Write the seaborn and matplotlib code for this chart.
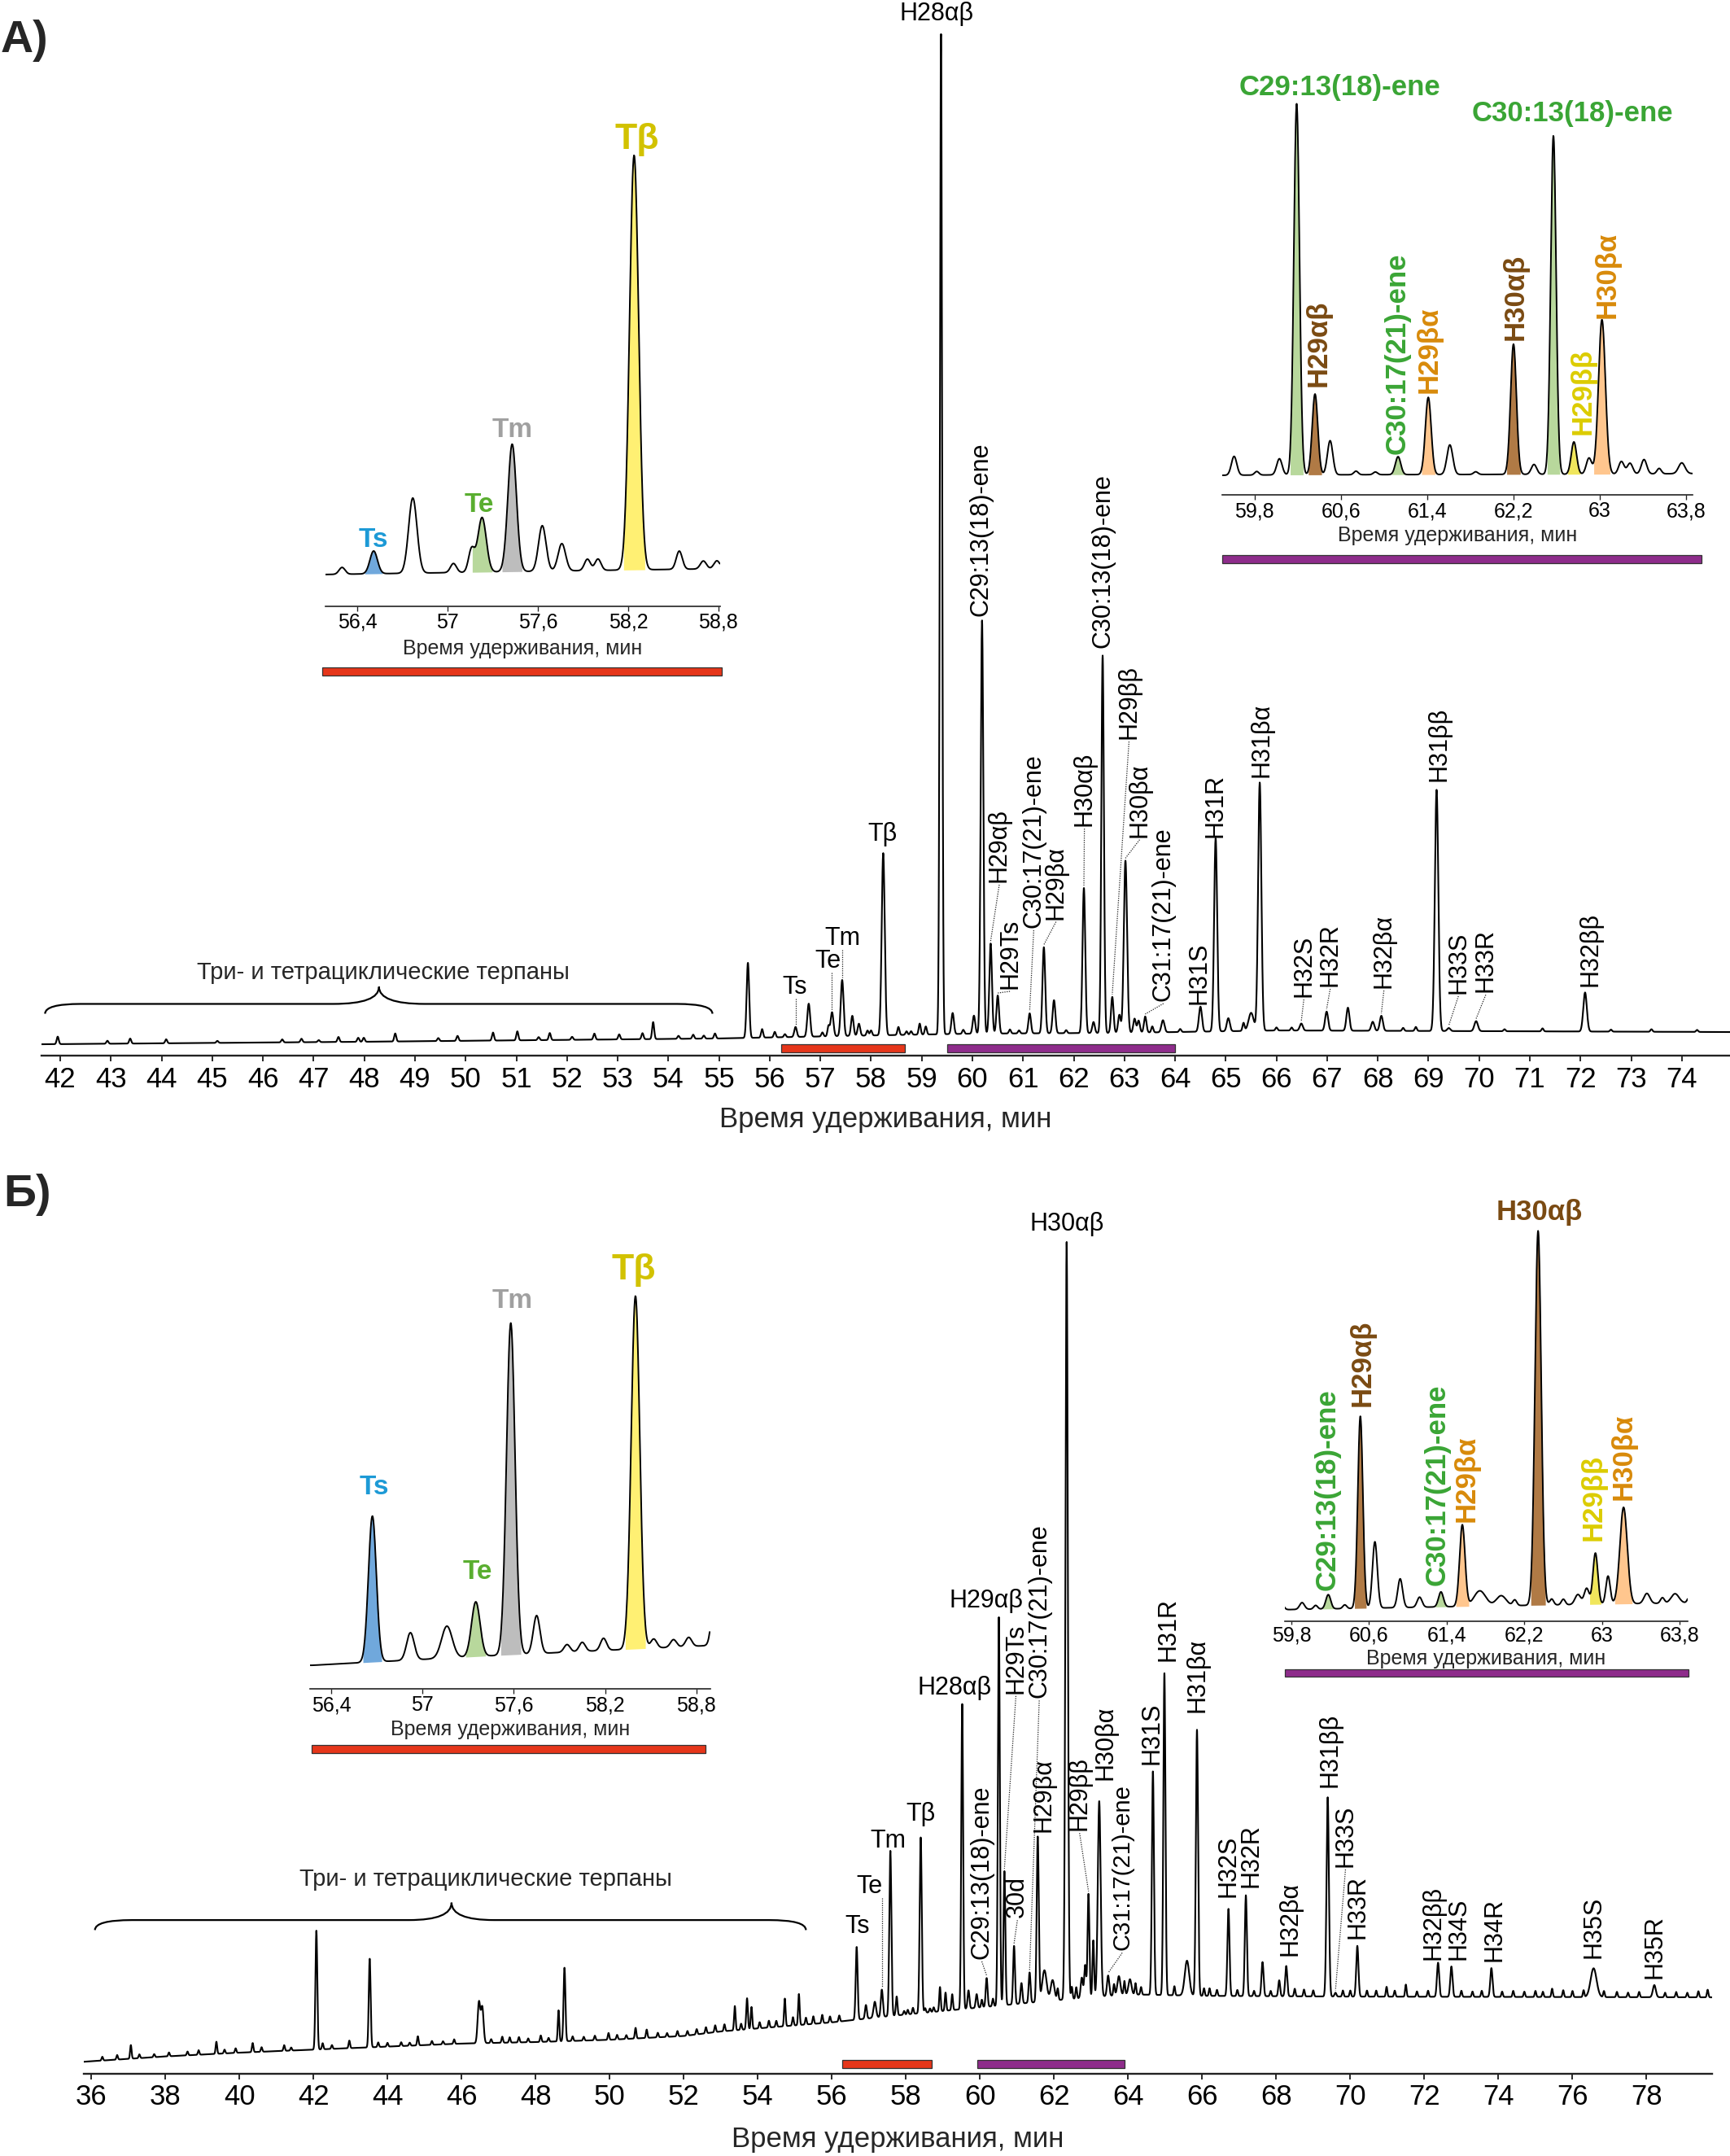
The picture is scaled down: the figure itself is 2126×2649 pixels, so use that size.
import numpy as np
import pandas as pd
import seaborn as sns
import matplotlib.pyplot as plt
from matplotlib.path import Path
from matplotlib.patches import PathPatch

sns.set_theme(style='ticks')
plt.rcParams['font.family'] = ['Liberation Sans', 'DejaVu Sans']

# ---------------- data: panel A ----------------
# main peaks: retention time (min), height (% of H28ab), width (sigma, min), name
a_rt = [
    55.57, 56.51, 56.77, 57.16, 57.23, 57.43, 57.63, 57.76, 58.24, 59.38,
    59.61, 60.03, 60.19, 60.36, 60.50, 61.13, 61.41, 61.61, 62.20, 62.39,
    62.57, 62.76, 62.90, 63.02, 63.20, 63.28, 63.41, 63.76, 64.50, 64.80,
    65.05, 65.50, 65.67, 66.49, 66.99, 67.41, 67.90, 68.07, 69.16, 69.40,
    69.94, 72.09]
a_h = [
    7.5, 1.0, 3.3, 1.0, 2.4, 5.6, 2.0, 1.2, 18.2, 100,
    2.1, 1.8, 41.3, 9.0, 3.8, 2.0, 8.6, 3.3, 14.5, 1.1,
    37.7, 3.6, 1.8, 17.2, 1.4, 1.2, 1.6, 1.2, 2.5, 19.3,
    1.3, 1.8, 24.8, 0.7, 1.9, 2.3, 0.9, 1.5, 24.1, 0.3,
    1.0, 3.9]
a_sig = [
    0.025, 0.025, 0.028, 0.02, 0.028, 0.028, 0.025, 0.025, 0.03, 0.022,
    0.025, 0.025, 0.026, 0.026, 0.025, 0.025, 0.027, 0.027, 0.027, 0.025,
    0.025, 0.025, 0.025, 0.032, 0.025, 0.025, 0.025, 0.03, 0.03, 0.03,
    0.03, 0.05, 0.032, 0.03, 0.03, 0.03, 0.03, 0.03, 0.034, 0.03,
    0.035, 0.035]
a_name = [
    '', 'Ts', '', '', 'Te', 'Tm', '', '', 'Tβ', 'H28αβ',
    '', '', 'C29:13(18)-ene', 'H29αβ', 'H29Ts', 'C30:17(21)-ene', 'H29βα', '', 'H30αβ', '',
    'C30:13(18)-ene', 'H29ββ', '', 'H30βα', '', '', 'C31:17(21)-ene', '', 'H31S', 'H31R',
    '', '', 'H31βα', 'H32S', 'H32R', '', '', 'H32βα', 'H31ββ', 'H33S',
    'H33R', 'H32ββ']
# small unnamed peaks
a_minor_rt = [
    41.95, 42.93, 43.38, 44.09, 45.1, 46.38, 46.76, 47.1, 47.49, 47.88,
    47.99, 48.61, 49.46, 49.84, 50.54, 51.02, 51.44, 51.66, 52.1, 52.54,
    53.03, 53.49, 53.70, 54.2, 54.49, 54.7, 54.92, 55.85, 56.10, 56.3,
    57.04, 57.93, 58.0, 58.54, 58.7, 58.79, 58.96, 59.08, 59.82, 60.74,
    60.92, 61.85, 63.55, 64.1, 65.35, 66.0, 66.3, 68.5, 68.75, 70.5,
    71.25, 72.6, 73.4, 74.3]
a_minor_h = [
    0.75, 0.3, 0.5, 0.4, 0.2, 0.3, 0.35, 0.2, 0.5, 0.4,
    0.4, 0.8, 0.3, 0.5, 0.8, 0.9, 0.3, 0.7, 0.3, 0.6,
    0.5, 0.6, 1.7, 0.3, 0.4, 0.3, 0.5, 0.85, 0.55, 0.3,
    0.4, 0.5, 0.5, 0.8, 0.35, 0.35, 1.1, 0.8, 0.4, 0.4,
    0.3, 0.3, 0.6, 0.3, 0.8, 0.3, 0.3, 0.3, 0.4, 0.2,
    0.3, 0.2, 0.25, 0.2]
# baseline drift
a_base_rt = [41.6, 48, 55, 58, 60, 63, 66, 70, 75]
a_base = [-0.98, -0.73, -0.4, -0.1, 0.08, 0.16, 0.4, 0.33, 0.24]
# retention windows shown in the insets
a_win_start = [56.22, 59.5]
a_win_end = [58.66, 64.0]

# ---------------- data: panel B ----------------
b_rt = [
    42.08, 43.52, 46.47, 46.56, 48.62, 48.78, 53.38, 53.71, 53.83, 54.73,
    55.11, 56.67, 56.92, 57.16, 57.35, 57.58, 57.75, 58.40, 58.92, 59.07,
    59.25, 59.52, 59.69, 59.91, 60.18, 60.51, 60.66, 60.92, 61.12, 61.34,
    61.56, 61.74, 61.96, 62.34, 62.75, 62.84, 62.93, 63.06, 63.22, 63.46,
    63.75, 64.05, 64.67, 64.98, 65.59, 65.86, 66.71, 67.18, 67.63, 68.08,
    68.27, 69.39, 69.60, 70.19, 71.50, 72.37, 72.73, 73.81, 76.57, 78.21]
b_h = [
    15.7, 11.7, 5.4, 4.7, 4.1, 9.7, 3.2, 4.1, 2.9, 3.65,
    4.1, 9.6, 1.8, 2.1, 3.6, 21.8, 2.5, 23.2, 3.2, 2.4,
    2.1, 40.3, 2.4, 1.8, 3.8, 51.3, 17.7, 7.7, 2.7, 4.0,
    21.8, 4.1, 2.7, 100, 2.7, 4.3, 13.7, 7.5, 25.8, 2.7,
    2.5, 2.0, 29.5, 42.5, 4.6, 35.1, 11.5, 13.3, 4.5, 2.1,
    4.0, 26.3, 0.5, 6.7, 1.6, 4.5, 4.0, 3.8, 3.8, 1.6]
b_sig = [
    0.025, 0.025, 0.035, 0.035, 0.02, 0.025, 0.02, 0.022, 0.02, 0.02,
    0.02, 0.026, 0.025, 0.035, 0.028, 0.028, 0.022, 0.028, 0.02, 0.02,
    0.02, 0.025, 0.025, 0.025, 0.025, 0.026, 0.025, 0.025, 0.025, 0.025,
    0.028, 0.06, 0.05, 0.032, 0.03, 0.025, 0.025, 0.022, 0.038, 0.03,
    0.04, 0.04, 0.028, 0.028, 0.06, 0.03, 0.028, 0.028, 0.028, 0.025,
    0.028, 0.032, 0.025, 0.03, 0.02, 0.03, 0.03, 0.03, 0.08, 0.04]
b_name = [
    '', '', '', '', '', '', '', '', '', '',
    '', 'Ts', '', '', 'Te', 'Tm', '', 'Tβ', '', '',
    '', 'H28αβ', '', '', 'C29:13(18)-ene', 'H29αβ', 'H29Ts', '30d', '', 'C30:17(21)-ene',
    'H29βα', '', '', 'H30αβ', '', '', 'H29ββ', '', 'H30βα', 'C31:17(21)-ene',
    '', '', 'H31S', 'H31R', '', 'H31βα', 'H32S', 'H32R', '', '',
    'H32βα', 'H31ββ', 'H33S', 'H33R', '', 'H32ββ', 'H34S', 'H34R', 'H35S', 'H35R']
b_minor_rt = [
    36.3, 36.7, 37.07, 37.3, 37.7, 38.1, 38.6, 38.9, 39.38, 39.6,
    39.9, 40.36, 40.6, 41.21, 41.4, 42.25, 42.5, 42.97, 43.75, 44.0,
    44.37, 44.6, 44.82, 45.2, 45.5, 45.8, 46.8, 47.1, 47.3, 47.55,
    47.8, 48.14, 48.35, 49.0, 49.3, 49.6, 49.97, 50.2, 50.45, 50.7,
    51.0, 51.3, 51.55, 51.83, 52.1, 52.35, 52.6, 52.85, 53.1, 53.55,
    54.05, 54.3, 54.5, 54.95, 55.3, 55.5, 55.74, 55.95, 56.2, 57.95,
    58.05, 58.19, 58.52, 58.65, 58.75, 60.05, 60.35, 62.1, 62.48, 62.6,
    63.62, 63.9, 64.2, 64.35, 65.25, 66.05, 66.2, 66.4, 66.95, 67.4,
    67.85, 68.5, 68.75, 69.0, 69.8, 70.0, 70.45, 70.7, 70.98, 71.2,
    71.8, 72.1, 73.0, 73.3, 73.55, 74.1, 74.4, 74.7, 75.0, 75.2,
    75.45, 75.75, 76.0, 76.3, 76.85, 77.2, 77.5, 77.8, 78.5, 78.8,
    79.1, 79.4, 79.65]
b_minor_h = [
    0.5, 0.6, 1.8, 0.5, 0.4, 0.5, 0.5, 0.6, 1.6, 0.5,
    0.6, 1.2, 0.6, 0.75, 0.4, 0.8, 0.5, 1.0, 0.6, 0.5,
    0.5, 0.4, 1.2, 0.5, 0.4, 0.6, 0.5, 0.8, 0.7, 0.7,
    0.5, 0.85, 0.5, 0.6, 0.5, 0.6, 0.9, 0.6, 0.5, 1.4,
    1.1, 0.6, 0.5, 0.7, 0.6, 0.7, 0.8, 0.9, 0.9, 0.8,
    0.8, 0.9, 0.8, 1.1, 0.9, 1.0, 1.1, 0.8, 0.8, 0.5,
    0.6, 0.8, 0.6, 0.5, 0.6, 1.0, 1.0, 1.5, 1.6, 1.5,
    1.5, 1.8, 1.5, 1.0, 1.2, 1.0, 1.0, 0.8, 0.8, 0.7,
    0.7, 1.0, 0.9, 0.8, 0.8, 0.8, 0.8, 0.8, 1.3, 0.8,
    0.7, 0.8, 0.8, 0.7, 0.8, 0.7, 0.8, 0.7, 0.8, 0.7,
    1.1, 0.9, 0.8, 0.9, 0.8, 0.7, 0.6, 0.7, 0.6, 0.7,
    0.6, 0.8, 1.0]
b_base_rt = [35.8, 38, 40, 42, 44, 46, 48, 50, 52, 53, 55, 56, 57.5, 59, 60.5, 62, 64, 66, 70, 80]
b_base = [-8.4, -7.7, -7.2, -6.8, -6.4, -6.0, -5.8, -5.5, -5.0, -4.4, -3.6, -3.2, -2.4, -1.7,
          -1.0, -0.3, 0.5, 0.3, 0.2, 0.1]
b_win_start = [56.29, 59.93]
b_win_end = [58.69, 63.9]

XLABEL = 'Время удерживания, мин'
BRACE_TEXT = 'Три- и тетрациклические терпаны'

# ---------------- styling ----------------
W, H = 2126, 2649
STEP = 0.003
MINOR_SIG = 0.02
FILL_WIDTH = 2.4
WIN_COLORS = ['#E6361A', '#8E2C8B']
T_COLORS = {'Ts': '#1D9AD6', 'Te': '#5AAE30', 'Tm': '#A0A0A0', 'Tβ': '#D2C200'}
GREEN, BROWN, ORANGE, YELLOW = '#3AA535', '#7A4A12', '#D88A0A', '#DCCC00'
FILL_COLORS = {'Ts': '#70A8DC', 'Te': '#B8D89C', 'Tm': '#BDBDBD', 'Tβ': '#FFF073',
               'C29:13(18)-ene': '#B8D89C', 'C30:17(21)-ene': '#B8D89C',
               'C30:13(18)-ene': '#B8D89C', 'H29αβ': '#B07A45', 'H30αβ': '#B07A45',
               'H29βα': '#FFC68E', 'H30βα': '#FFC68E', 'H29ββ': '#F0E65C'}
INK = '#222222'

fig = plt.figure(figsize=(W / 100, H / 100), dpi=100)
fig.patch.set_facecolor('white')


def axes_px(x0, y0, x1, y1):
    ax = fig.add_axes([x0 / W, 1 - y1 / H, (x1 - x0) / W, (y1 - y0) / H])
    ax.patch.set_alpha(0)
    return ax


def peak_table(rt, h, sig, names, minor_rt, minor_h):
    major = pd.DataFrame({'rt': rt, 'h': h, 'sig': sig, 'name': names})
    minor = pd.DataFrame({'rt': minor_rt, 'h': minor_h})
    minor['sig'] = MINOR_SIG
    minor['name'] = ''
    return pd.concat([major, minor], ignore_index=True)


def signal(x, peaks, base_rt, base):
    z = (x[:, None] - peaks['rt'].values[None, :]) / peaks['sig'].values[None, :]
    return np.interp(x, base_rt, base) + (peaks['h'].values * np.exp(-0.5 * z ** 2)).sum(axis=1)


def draw_trace(ax, peaks, base_rt, base, x0, x1, lw, fills=()):
    x = np.arange(x0, x1, STEP)
    y = signal(x, peaks, base_rt, base)
    b = np.interp(x, base_rt, base)
    for name in fills:
        row = peaks.loc[peaks['name'] == name].iloc[0]
        mask = np.abs(x - row['rt']) <= FILL_WIDTH * row['sig']
        ax.fill_between(x, b, y, where=mask, color=FILL_COLORS[name], lw=0, zorder=1)
    sns.lineplot(x=x, y=y, ax=ax, color='black', linewidth=lw, estimator=None, zorder=3)


def style_axis(ax, xlim, ylim, ticks, labels, fs, tick_len, pad, labelpad, spine_lw):
    ax.set_xlim(*xlim)
    ax.set_ylim(*ylim)
    sns.despine(ax=ax, left=True)
    ax.set_yticks([])
    ax.set_ylabel('')
    ax.set_xticks(ticks)
    ax.set_xticklabels(labels)
    ax.tick_params(axis='x', length=tick_len, width=spine_lw * 0.8, pad=pad,
                   labelsize=fs, color=INK, labelcolor='black', direction='out')
    ax.spines['bottom'].set_linewidth(spine_lw)
    ax.spines['bottom'].set_color(INK)
    ax.set_xlabel(XLABEL, fontsize=fs, labelpad=labelpad)


def label_color(name):
    if name in T_COLORS:
        return T_COLORS[name]
    if 'ene' in name:
        return GREEN
    if 'αβ' in name:
        return BROWN
    if 'βα' in name:
        return ORANGE
    return YELLOW


def put_labels(ax, peaks, base_rt, base, specs, fs, px_per_unit, bold=False, colored=False, big=None):
    for text, x, y, rot, leader in specs:
        kw = dict(fontsize=(big or {}).get(text, fs), fontweight='bold' if bold else 'normal',
                  color=label_color(text) if colored else 'black', zorder=5)
        if rot:
            ax.text(x, y, text, rotation=90, ha='center', va='bottom', **kw)
        else:
            ax.text(x, y, text, ha='center', va='center', **kw)
        if leader:
            rt = peaks.loc[peaks['name'] == text, 'rt'].iloc[0]
            top = signal(np.array([rt]), peaks, base_rt, base)[0]
            g = 3 / px_per_unit
            if rot:
                xs, ys = [x, rt], [y - g, top + g]
            else:
                xs, ys = [rt, rt], [y - 14 / px_per_unit, top + g]
            ax.plot(xs, ys, ls=(0, (1, 1.2)), lw=0.9, color=INK, zorder=4)


def brace(ax, x0, x1, xt, y_end, y_mid, y_tip, d_end, d_tip):
    verts = [(x0, y_end), (x0, y_mid), (x0 + d_end, y_mid), (xt - d_tip, y_mid),
             (xt, y_mid), (xt, y_tip), (xt, y_mid), (xt + d_tip, y_mid),
             (x1 - d_end, y_mid), (x1, y_mid), (x1, y_end)]
    codes = [Path.MOVETO, Path.CURVE3, Path.CURVE3, Path.LINETO, Path.CURVE3, Path.CURVE3,
             Path.CURVE3, Path.CURVE3, Path.LINETO, Path.CURVE3, Path.CURVE3]
    ax.add_patch(PathPatch(Path(verts, codes), fill=False, lw=1.6, ec='black'))


def windows(ax, starts, ends, y, height, colors, clip=True):
    ax.barh(y=[y] * len(starts), width=np.subtract(ends, starts), left=starts, height=height,
            color=colors, edgecolor='#333333', linewidth=0.9, align='center', clip_on=clip, zorder=2)


def comma(v):
    s = f'{v:g}'
    return s.replace('.', ',')


pa = peak_table(a_rt, a_h, a_sig, a_name, a_minor_rt, a_minor_h)
pb = peak_table(b_rt, b_h, b_sig, b_name, b_minor_rt, b_minor_h)

# ======================= panel A: main chromatogram =======================
axA = axes_px(51, 0, 2126, 1297)
draw_trace(axA, pa, a_base_rt, a_base, 41.63, 74.95, 1.5)
style_axis(axA, (41.63, 74.95), (-2.114, 103.33), range(42, 75), [str(v) for v in range(42, 75)],
           25, 5, 4, 12, 1.7)
windows(axA, a_win_start, a_win_end, -1.38, 0.8, WIN_COLORS)
a_main_labels = [
    ('H28αβ', 59.29, 101.95, 0, False), ('Tβ', 58.22, 20.0, 0, False),
    ('Tm', 57.43, 9.6, 0, True), ('Te', 57.15, 7.28, 0, True), ('Ts', 56.49, 4.72, 0, True),
    ('C29:13(18)-ene', 60.17, 41.8, 90, False), ('H29αβ', 60.53, 15.2, 90, True),
    ('H29Ts', 60.74, 4.55, 90, True), ('C30:17(21)-ene', 61.21, 10.65, 90, True),
    ('H29βα', 61.65, 11.5, 90, True), ('H30αβ', 62.21, 20.8, 90, True),
    ('C30:13(18)-ene', 62.57, 38.6, 90, False), ('H29ββ', 63.09, 29.5, 90, True),
    ('H30βα', 63.30, 19.7, 90, True), ('C31:17(21)-ene', 63.77, 3.33, 90, True),
    ('H31S', 64.47, 3.0, 90, False), ('H31R', 64.80, 19.7, 90, False),
    ('H31βα', 65.71, 25.7, 90, False), ('H32S', 66.54, 3.74, 90, True),
    ('H32R', 67.06, 4.8, 90, True), ('H32βα', 68.12, 4.63, 90, True),
    ('H31ββ', 69.21, 25.3, 90, False), ('H33S', 69.59, 4.07, 90, True),
    ('H33R', 70.13, 4.2, 90, True), ('H32ββ', 72.2, 4.8, 90, False)]
put_labels(axA, pa, a_base_rt, a_base, a_main_labels, 22, 12.3)
brace(axA, 41.7, 54.87, 48.29, 2.07, 3.05, 4.76, 0.7, 0.9)
axA.text(48.37, 6.2, BRACE_TEXT, fontsize=21, ha='center', va='center')

# panel A: left inset (56.2-58.8 min)
axA1 = axes_px(400, 150, 884.7, 744.6)
draw_trace(axA1, pa, a_base_rt, a_base, 56.19, 58.81, 1.4, fills=['Ts', 'Te', 'Tm', 'Tβ'])
t1 = [56.4, 57.0, 57.6, 58.2, 58.8]
style_axis(axA1, (56.19, 58.81), (-1.664, 19.57), t1, [comma(v) for v in t1], 18, 4, 2, 6, 1.2)
windows(axA1, [56.17], [58.82], -4.52, 0.36, WIN_COLORS[:1], clip=False)
put_labels(axA1, pa, a_base_rt, a_base,
           [('Ts', 56.51, 1.25, 0, False), ('Te', 57.21, 2.77, 0, False),
            ('Tm', 57.43, 6.04, 0, False), ('Tβ', 58.26, 18.8, 0, False)],
           24, 28, bold=True, colored=True, big={'Tβ': 32})

# panel A: right inset (59.8-63.8 min)
axA2 = axes_px(1502, 60, 2080, 608)
draw_trace(axA2, pa, a_base_rt, a_base, 59.50, 63.86, 1.4,
           fills=['C29:13(18)-ene', 'H29αβ', 'C30:17(21)-ene', 'H29βα', 'H30αβ',
                  'C30:13(18)-ene', 'H29ββ', 'H30βα'])
t2 = [59.8, 60.6, 61.4, 62.2, 63.0, 63.8]
style_axis(axA2, (59.50, 63.86), (-2.14, 47.5), t2, [comma(v) for v in t2], 18, 4, 2, 4, 1.2)
windows(axA2, [59.50], [63.94], -9.3, 0.9, WIN_COLORS[1:], clip=False)
put_labels(axA2, pa, a_base_rt, a_base,
           [('C29:13(18)-ene', 60.59, 43.2, 0, False), ('C30:13(18)-ene', 62.75, 40.3, 0, False),
            ('H29αβ', 60.39, 9.9, 90, False), ('C30:17(21)-ene', 61.12, 2.4, 90, False),
            ('H29βα', 61.42, 9.2, 90, False), ('H30αβ', 62.22, 15.1, 90, False),
            ('H29ββ', 62.84, 4.6, 90, False), ('H30βα', 63.07, 17.5, 90, False)],
           25, 11.04, bold=True, colored=True)

# ======================= panel B: main chromatogram =======================
axB = axes_px(103, 1480, 2104, 2547.5)
draw_trace(axB, pb, b_base_rt, b_base, 35.8, 79.77, 1.5)
style_axis(axB, (35.8, 79.77), (-9.935, 104.73), range(36, 80, 2), [str(v) for v in range(36, 80, 2)],
           25, 5, 4, 14, 1.7)
windows(axB, b_win_start, b_win_end, -8.7, 1.07, WIN_COLORS)
b_main_labels = [
    ('Ts', 56.68, 9.45, 0, False), ('Te', 57.01, 14.7, 0, True), ('Tm', 57.51, 20.7, 0, False),
    ('Tβ', 58.41, 24.3, 0, False), ('H28αβ', 59.32, 40.9, 0, False),
    ('H29αβ', 60.18, 52.4, 0, False), ('H30αβ', 62.34, 102.2, 0, False),
    ('C29:13(18)-ene', 60.05, 5.16, 90, True), ('H29Ts', 60.97, 40.2, 90, True),
    ('C30:17(21)-ene', 61.60, 39.6, 90, True), ('30d', 61.01, 10.6, 90, True),
    ('H29βα', 61.71, 21.9, 90, False), ('H29ββ', 62.69, 22.1, 90, True),
    ('H30βα', 63.38, 28.8, 90, False), ('C31:17(21)-ene', 63.84, 6.3, 90, True),
    ('H31S', 64.64, 30.8, 90, False), ('H31R', 65.08, 44.5, 90, False),
    ('H31βα', 65.88, 37.7, 90, False), ('H32S', 66.70, 13.3, 90, False),
    ('H32R', 67.33, 14.6, 90, False), ('H32βα', 68.37, 5.6, 90, False),
    ('H31ββ', 69.46, 27.8, 90, False), ('H33S', 69.87, 17.3, 90, True),
    ('H33R', 70.21, 7.8, 90, False), ('H32ββ', 72.24, 5.05, 90, False),
    ('H34S', 72.92, 5.05, 90, False), ('H34R', 73.89, 4.8, 90, False),
    ('H35S', 76.57, 5.26, 90, False), ('H35R', 78.21, 2.6, 90, False)]
put_labels(axB, pb, b_base_rt, b_base, b_main_labels, 22, 9.31, big={'C31:17(21)-ene': 21})
brace(axB, 36.1, 55.3, 45.73, 8.98, 10.3, 12.6, 1.0, 1.15)
axB.text(46.65, 15.64, BRACE_TEXT, fontsize=21, ha='center', va='center')

# panel B: left inset
axB1 = axes_px(381, 1520, 872.5, 2075)
draw_trace(axB1, pb, b_base_rt, b_base, 56.26, 58.89, 1.4, fills=['Ts', 'Te', 'Tm', 'Tβ'])
style_axis(axB1, (56.26, 58.89), (-4.60, 25.08), t1, [comma(v) for v in t1], 18, 4, 2, 4, 1.2)
windows(axB1, [56.27], [58.86], -8.54, 0.52, WIN_COLORS[:1], clip=False)
put_labels(axB1, pb, b_base_rt, b_base,
           [('Ts', 56.68, 8.63, 0, False), ('Te', 57.36, 3.1, 0, False),
            ('Tm', 57.59, 20.9, 0, False), ('Tβ', 58.39, 22.9, 0, False)],
           24, 18.7, bold=True, colored=True, big={'Tβ': 32})

# panel B: right inset
axB2 = axes_px(1578.6, 1460, 2074, 1992)
draw_trace(axB2, pb, b_base_rt, b_base, 59.73, 63.88, 1.4,
           fills=['C29:13(18)-ene', 'H29αβ', 'C30:17(21)-ene', 'H29βα', 'H30αβ', 'H29ββ', 'H30βα'])
style_axis(axB2, (59.73, 63.88), (-4.46, 111.2), t2, [comma(v) for v in t2], 18, 3, 1, 3, 1.2)
windows(axB2, [59.73], [63.89], -18.3, 2.04, WIN_COLORS[1:], clip=False)
put_labels(axB2, pb, b_base_rt, b_base,
           [('H30αβ', 62.35, 104.8, 0, False), ('C29:13(18)-ene', 60.17, 3.8, 90, False),
            ('H29αβ', 60.53, 52.9, 90, False), ('C30:17(21)-ene', 61.30, 5.1, 90, False),
            ('H29βα', 61.6, 22.1, 90, False), ('H29ββ', 62.91, 17.1, 90, False),
            ('H30βα', 63.22, 27.9, 90, False)],
           25, 4.6, bold=True, colored=True)

fig.text(30 / W, 1 - 50 / H, 'А)', fontsize=40, fontweight='bold', ha='center', va='center')
fig.text(34 / W, 1 - 1468 / H, 'Б)', fontsize=40, fontweight='bold', ha='center', va='center')

fig.savefig('out.png', dpi=100, facecolor='white')
